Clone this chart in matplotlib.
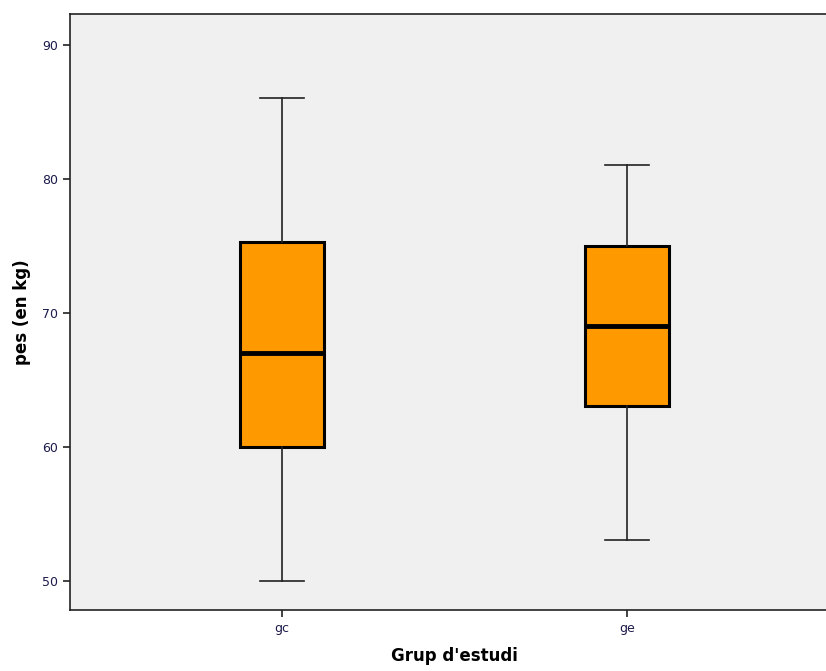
import matplotlib
matplotlib.use('Agg')
import matplotlib.pyplot as plt

# -------------------------------
# Data
# -------------------------------
groups = ['gc', 'ge']
whisker_low = [50, 53]
q1 = [60, 63]
median = [67, 69]
q3 = [75.3, 75]
whisker_high = [86, 81]

stats = []
for i, g in enumerate(groups):
    stats.append({'label': g, 'whislo': whisker_low[i], 'q1': q1[i],
                  'med': median[i], 'q3': q3[i], 'whishi': whisker_high[i],
                  'fliers': []})

# -------------------------------
# Plot
# -------------------------------
fig = plt.figure(figsize=(8.26, 6.71), dpi=100)
ax = fig.add_axes([70 / 826, 61 / 671, 769 / 826, 596 / 671])
ax.set_facecolor('#f0f0f0')

ax.bxp(stats, positions=[1, 2], widths=0.246, patch_artist=True,
       showfliers=False,
       boxprops=dict(facecolor='#ff9900', edgecolor='black', linewidth=2.2),
       medianprops=dict(color='black', linewidth=3.5),
       whiskerprops=dict(color='#222222', linewidth=1.2),
       capprops=dict(color='#222222', linewidth=1.2),
       capwidths=0.128)

ax.set_xlim(0.385, 2.615)
ax.set_ylim(47.8, 92.3)
ax.set_yticks([50, 60, 70, 80, 90])
ax.set_xticks([1, 2])
ax.set_xticklabels(groups)

for side in ['top', 'bottom', 'left']:
    ax.spines[side].set_linewidth(1.2)
    ax.spines[side].set_color('#222222')
ax.spines['right'].set_visible(False)

ax.tick_params(axis='both', labelsize=9, labelcolor='#1a1a4a', color='#222222',
               length=5, width=1.2)

ax.set_xlabel("Grup d'estudi", fontsize=12, fontweight='bold', labelpad=9)
ax.set_ylabel('pes (en kg)', fontsize=12, fontweight='bold', labelpad=8)

fig.savefig('out.png', dpi=100)
